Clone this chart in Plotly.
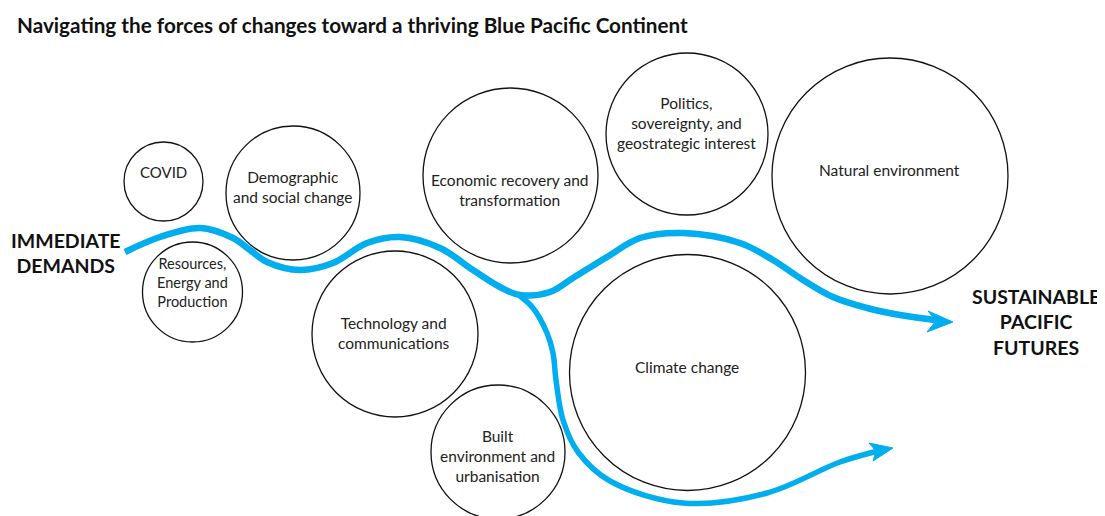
import plotly.graph_objects as go

W, H = 1105, 516
PAGE_MARGIN = 8  # default browser body margin

# Forces of change (circles)
force_labels = [
    "COVID",
    "Demographic<br>and social change",
    "Resources,<br>Energy and<br>Production",
    "Technology and<br>communications",
    "Economic recovery and<br>transformation",
    "Politics,<br>sovereignty, and<br>geostrategic interest",
    "Natural environment",
    "Climate change",
    "Built<br>environment and<br>urbanisation",
]
force_cx = [163.5, 293, 192.5, 395, 510.5, 687, 890, 687.5, 498]
force_cy = [181.5, 193, 292, 334, 175.5, 134, 176, 372.5, 452]
force_r = [39.5, 67, 50, 83, 87.5, 81, 118, 118, 67]
label_x = [163, 292, 192, 394, 509, 686, 889, 687, 497]
label_y = [172, 187, 282, 333, 190, 123, 170, 367, 456]
label_size = [15, 15.5, 14.5, 15.5, 15.5, 15.5, 15.5, 15.5, 15.5]

# Pathway (blue) — main route to sustainable futures
main_x = [125, 160, 200, 233, 250, 267, 300, 333, 367, 400, 440, 473, 500, 520, 550, 573, 607, 640, 683, 740, 773, 800, 833, 867, 900, 935]
main_y = [252, 237, 228, 238, 250, 262, 270, 263, 243, 237, 248, 270, 287, 295, 292, 278, 257, 238, 233, 243, 260, 278, 297, 308, 315, 320]
# Branch route around climate change
branch_x = [520, 533, 547, 553, 556, 563, 578, 610, 683, 767, 840, 878]
branch_y = [296, 308, 333, 353, 380, 420, 452, 481, 503, 493, 462, 451]

# Arrowheads: tip, barb, notch, barb
arrow1_x = [953, 928, 936, 927, 953]
arrow1_y = [322, 311, 321, 332, 322]
arrow2_x = [893, 869, 876, 873, 893]
arrow2_y = [448, 443, 451, 461, 448]

BLUE = "#00AEEF"
FONT = "Lato"

fig = go.Figure()

shapes = []
for cx, cy, r in zip(force_cx, force_cy, force_r):
    shapes.append(dict(type="circle", xref="x", yref="y",
                       x0=cx - r, x1=cx + r, y0=cy - r, y1=cy + r,
                       line=dict(color="#111111", width=1.3), fillcolor="rgba(0,0,0,0)",
                       layer="below"))

fig.add_trace(go.Scatter(x=main_x, y=main_y, mode="lines",
                         line=dict(color=BLUE, width=6.5, shape="spline", smoothing=1.0),
                         hoverinfo="skip", showlegend=False))
fig.add_trace(go.Scatter(x=branch_x, y=branch_y, mode="lines",
                         line=dict(color=BLUE, width=5.5, shape="spline", smoothing=1.0),
                         hoverinfo="skip", showlegend=False))
fig.add_trace(go.Scatter(x=arrow1_x, y=arrow1_y, mode="lines", fill="toself",
                         fillcolor=BLUE, line=dict(color=BLUE, width=1),
                         hoverinfo="skip", showlegend=False))
fig.add_trace(go.Scatter(x=arrow2_x, y=arrow2_y, mode="lines", fill="toself",
                         fillcolor=BLUE, line=dict(color=BLUE, width=1),
                         hoverinfo="skip", showlegend=False))

annotations = []
for t, x, y, s in zip(force_labels, label_x, label_y, label_size):
    annotations.append(dict(x=x, y=y, xref="x", yref="y", text=t, showarrow=False,
                            font=dict(family=FONT, size=s, color="#222222"),
                            align="center", xanchor="center", yanchor="middle"))

annotations.append(dict(x=15, y=25, xref="x", yref="y",
                        text="<b>Navigating the forces of changes toward a thriving Blue Pacific Continent</b>",
                        showarrow=False, xanchor="left", yanchor="middle",
                        font=dict(family=FONT, size=20.7, color="#111111")))
annotations.append(dict(x=66, y=253, xref="x", yref="y",
                        text="<b>IMMEDIATE<br>DEMANDS</b>",
                        showarrow=False, xanchor="center", yanchor="middle", align="center",
                        font=dict(family=FONT, size=19.5, color="#111111")))
annotations.append(dict(x=1036, y=322, xref="x", yref="y",
                        text="<b>SUSTAINABLE<br>PACIFIC<br>FUTURES</b>",
                        showarrow=False, xanchor="center", yanchor="middle", align="center",
                        font=dict(family=FONT, size=19.5, color="#111111")))

fig.update_layout(
    width=W - PAGE_MARGIN, height=H - PAGE_MARGIN, autosize=False,
    margin=dict(l=0, r=0, t=0, b=0),
    paper_bgcolor="white", plot_bgcolor="white",
    shapes=shapes, annotations=annotations,
    xaxis=dict(range=[PAGE_MARGIN, W], visible=False, fixedrange=True),
    yaxis=dict(range=[H, PAGE_MARGIN], visible=False, fixedrange=True),
    showlegend=False,
)

fig.write_html("out.html", config={"displayModeBar": False})
